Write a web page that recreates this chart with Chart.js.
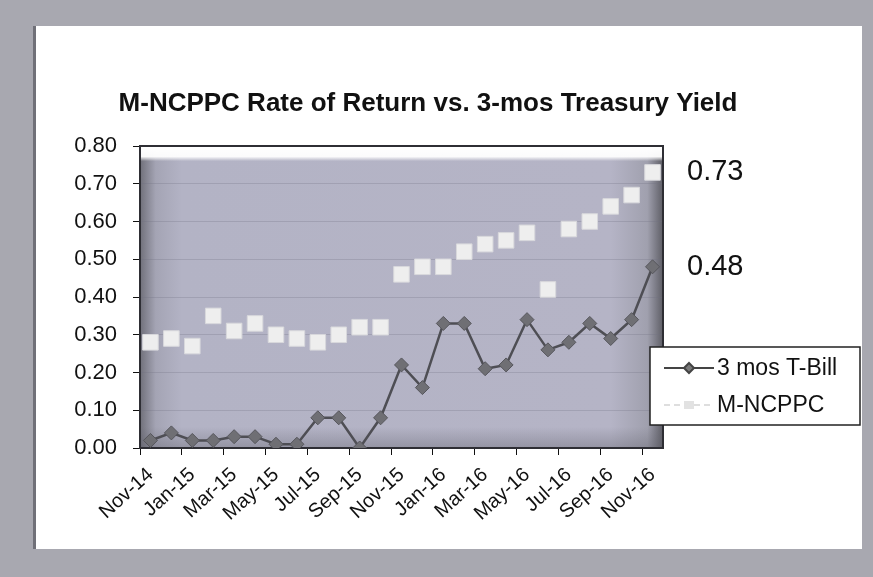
<!DOCTYPE html>
<html><head><meta charset="utf-8">
<script src="https://cdn.jsdelivr.net/npm/chart.js@4"></script>
<style>
html,body{margin:0;padding:0;width:873px;height:577px;overflow:hidden;background:#a8a8b0;}
#panel{position:absolute;left:33px;top:26px;width:829px;height:523px;background:#fff;border-left:3px solid #707078;box-sizing:border-box;}
#wrap{position:absolute;left:0;top:0;width:873px;height:577px;}
</style></head><body>
<div id="panel"></div>
<div id="wrap"><canvas id="c" width="873" height="577"></canvas></div>
<script>
const TITLE = 'M-NCPPC Rate of Return vs. 3-mos Treasury Yield';
const months = ['Nov-14','Dec-14','Jan-15','Feb-15','Mar-15','Apr-15','May-15','Jun-15','Jul-15','Aug-15','Sep-15','Oct-15','Nov-15','Dec-15','Jan-16','Feb-16','Mar-16','Apr-16','May-16','Jun-16','Jul-16','Aug-16','Sep-16','Oct-16','Nov-16'];
const tBill = [0.02,0.04,0.02,0.02,0.03,0.03,0.01,0.01,0.08,0.08,0.00,0.08,0.22,0.16,0.33,0.33,0.21,0.22,0.34,0.26,0.28,0.33,0.29,0.34,0.48];
const mncppc = [0.28,0.29,0.27,0.35,0.31,0.33,0.30,0.29,0.28,0.30,0.32,0.32,0.46,0.48,0.48,0.52,0.54,0.55,0.57,0.42,0.58,0.60,0.64,0.67,0.73];
const seriesNames = ['3 mos T-Bill','M-NCPPC'];
const yMin = 0, yMax = 0.8, yStep = 0.1;

const FONT = "'Liberation Sans', Arial, sans-serif";

const decor = {
  id: 'decor',
  beforeDraw(chart) {
    const {ctx, chartArea: a} = chart;
    ctx.save();
    const w = a.right - a.left, h = a.bottom - a.top;
    const g = ctx.createLinearGradient(a.left, 0, a.right, 0);
    g.addColorStop(0, '#70707a');
    g.addColorStop(0.03, '#a4a4b4');
    g.addColorStop(0.08, '#b3b3c5');
    g.addColorStop(0.9, '#b5b4c6');
    g.addColorStop(0.97, '#a0a0ae');
    g.addColorStop(1, '#5e5e66');
    ctx.fillStyle = g;
    ctx.fillRect(a.left, a.top, w, h);
    const v = ctx.createLinearGradient(0, a.top, 0, a.bottom);
    v.addColorStop(0, 'rgba(255,255,255,1)');
    v.addColorStop(0.035, 'rgba(255,255,255,0.95)');
    v.addColorStop(0.05, 'rgba(255,255,255,0)');
    v.addColorStop(0.93, 'rgba(90,90,100,0)');
    v.addColorStop(1, 'rgba(90,90,100,0.35)');
    ctx.fillStyle = v;
    ctx.fillRect(a.left, a.top, w, h);
    ctx.restore();
  },
  beforeDatasetsDraw(chart) {
    const {ctx, chartArea: a} = chart;
    ctx.save();
    ctx.strokeStyle = '#2e2e34';
    ctx.lineWidth = 2;
    ctx.strokeRect(a.left, a.top, a.right - a.left, a.bottom - a.top);
    ctx.restore();
  },
  afterDraw(chart) {
    const {ctx} = chart;
    const ys = chart.scales.y;
    ctx.save();
    // title
    ctx.fillStyle = '#111';
    ctx.font = 'bold 26px ' + FONT;
    ctx.textAlign = 'center';
    ctx.textBaseline = 'middle';
    ctx.fillText(TITLE, 428, 104);
    // end-value annotations
    ctx.font = '29px ' + FONT;
    ctx.textAlign = 'left';
    ctx.fillText(mncppc[mncppc.length - 1].toFixed(2), 687, ys.getPixelForValue(mncppc[mncppc.length - 1]));
    ctx.fillText(tBill[tBill.length - 1].toFixed(2), 687, ys.getPixelForValue(tBill[tBill.length - 1]));
    // legend
    const lx = 650, ly = 347, lw = 210, lh = 78;
    ctx.fillStyle = '#fff';
    ctx.fillRect(lx, ly, lw, lh);
    ctx.strokeStyle = '#222';
    ctx.lineWidth = 1.5;
    ctx.strokeRect(lx, ly, lw, lh);
    const r1 = ly + 21, r2 = ly + 58;
    ctx.strokeStyle = '#444';
    ctx.lineWidth = 2;
    ctx.beginPath(); ctx.moveTo(664, r1); ctx.lineTo(714, r1); ctx.stroke();
    ctx.fillStyle = '#7a7a7a';
    ctx.beginPath();
    ctx.moveTo(689, r1 - 5); ctx.lineTo(694, r1); ctx.lineTo(689, r1 + 5); ctx.lineTo(684, r1);
    ctx.closePath(); ctx.fill(); ctx.stroke();
    ctx.strokeStyle = '#d4d4d4';
    ctx.lineWidth = 1.5;
    ctx.setLineDash([6, 4]);
    ctx.beginPath(); ctx.moveTo(664, r2); ctx.lineTo(714, r2); ctx.stroke();
    ctx.setLineDash([]);
    ctx.fillStyle = '#e2e2e2';
    ctx.fillRect(684, r2 - 4, 10, 8);
    ctx.fillStyle = '#111';
    ctx.font = '23px ' + FONT;
    ctx.textBaseline = 'middle';
    ctx.fillText(seriesNames[0], 717, r1 + 1);
    ctx.fillText(seriesNames[1], 717, r2 + 1);
    ctx.restore();
  }
};

new Chart(document.getElementById('c'), {
  type: 'line',
  data: {
    labels: months,
    datasets: [
      {
        label: seriesNames[1],
        data: mncppc,
        showLine: false,
        pointStyle: 'rect',
        pointRadius: 11,
        pointBackgroundColor: '#eeeeee',
        pointBorderColor: '#d8d8dc',
        pointBorderWidth: 1,
        order: 2
      },
      {
        label: seriesNames[0],
        data: tBill,
        borderColor: '#4e4e54',
        borderWidth: 2.5,
        pointStyle: 'rectRot',
        pointRadius: 7,
        pointBackgroundColor: '#6f6f74',
        pointBorderColor: '#56565c',
        pointBorderWidth: 1,
        tension: 0,
        order: 1
      }
    ]
  },
  options: {
    responsive: false,
    animation: false,
    devicePixelRatio: 1,
    layout: { padding: { top: 146, right: 210, bottom: 49, left: 40 } },
    plugins: { legend: { display: false }, title: { display: false }, tooltip: { enabled: false } },
    scales: {
      x: {
        offset: true,
        grid: {
          offset: true,
          drawOnChartArea: false,
          tickLength: 7,
          tickColor: (c) => (c.index % 2 === 0 ? '#111' : 'rgba(0,0,0,0)')
        },
        border: { color: '#111', width: 2 },
        ticks: {
          autoSkip: false,
          minRotation: 42,
          maxRotation: 42,
          padding: 8,
          color: '#111',
          font: { family: FONT, size: 20 },
          callback: (v, i) => (i % 2 === 0 ? months[i] : '')
        },
        afterFit: (s) => { s.height = 80; }
      },
      y: {
        min: yMin,
        max: yMax,
        grid: {
          color: 'rgba(110,110,130,0.28)',
          lineWidth: 1,
          tickLength: 7,
          tickColor: '#111'
        },
        border: { color: '#111', width: 2 },
        ticks: {
          stepSize: yStep,
          padding: 16,
          color: '#111',
          font: { family: FONT, size: 22 },
          callback: (v) => Number(v).toFixed(2)
        },
        afterFit: (s) => { s.width = 100; }
      }
    }
  },
  plugins: [decor]
});
</script>
</body></html>
